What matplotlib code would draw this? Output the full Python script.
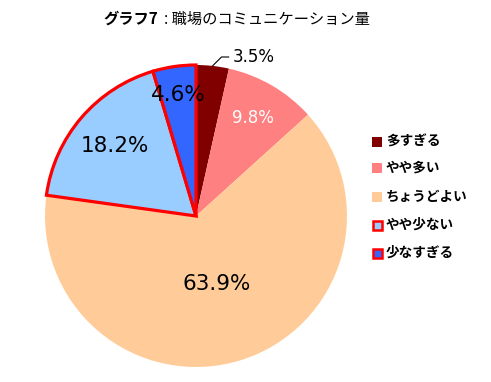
import matplotlib
matplotlib.use("Agg")
import matplotlib.pyplot as plt
from matplotlib.patches import Rectangle
import numpy as np

# data
categories = ["多すぎる", "やや多い", "ちょうどよい", "やや少ない", "少なすぎる"]
values = [3.5, 9.8, 63.9, 18.2, 4.6]
colors = ["#800000", "#FF8080", "#FFCC99", "#99CCFF", "#3366FF"]
edge_red = [False, False, False, True, True]

jp = ["Noto Sans CJK JP", "DejaVu Sans"]
plt.rcParams["font.family"] = ["DejaVu Sans"]

W, H = 491, 382
fig = plt.figure(figsize=(W / 100, H / 100), dpi=100)
fig.patch.set_facecolor("white")
ax = fig.add_axes([0, 0, 1, 1])

wedges, _ = ax.pie(values, colors=colors, startangle=90, counterclock=False,
                   radius=1.0, wedgeprops=dict(linewidth=0))
for w, red in zip(wedges, edge_red):
    if red:
        w.set_edgecolor("#FF0000")
        w.set_linewidth(2.3)
        w.set_joinstyle("miter")

# pie center at (196, 216) px, radius 151 px
cx, cy, R = 196, 216, 151
ax.set_aspect("auto")
ax.set_xlim(-cx / R, (W - cx) / R)
ax.set_ylim(-(H - cy) / R, cy / R)
ax.axis("off")

# labels
lab_r = [None, 0.75, 0.47, 0.71, 0.81]
lab_color = ["black", "white", "black", "black", "black"]
lab_size = [12, 12, 15.5, 15.5, 15.5]
ang = 90.0
for i, v in enumerate(values):
    mid = ang - v * 3.6 / 2
    ang -= v * 3.6
    t = np.deg2rad(mid)
    txt = f"{v:.1f}%"
    if lab_r[i] is None:
        ax.annotate(txt, xy=(np.cos(t), np.sin(t)), xytext=(0.245, 1.053),
                    ha="left", va="center", fontsize=lab_size[i], color=lab_color[i],
                    arrowprops=dict(arrowstyle="-", color="black", lw=0.8,
                                    relpos=(0, 0.5), shrinkA=1, shrinkB=0,
                                    connectionstyle="angle,angleA=180,angleB=45,rad=0"))
    else:
        ax.text(lab_r[i] * np.cos(t), lab_r[i] * np.sin(t), txt, ha="center", va="center",
                fontsize=lab_size[i], color=lab_color[i])

# title
fig.text(103 / W, 1 - 19 / H, "グラフ7", family=jp, fontsize=11, fontweight="bold",
         ha="left", va="center")
fig.text(164 / W, 1 - 19 / H, ": 職場のコミュニケーション量", family=jp, fontsize=11,
         ha="left", va="center")

# legend
rows = [142, 168, 197, 225, 253]
for lab, c, red, yy in zip(categories, colors, edge_red, rows):
    if red:
        r = Rectangle((373 / W, 1 - (yy + 4.5) / H), 9 / W, 9 / H, transform=fig.transFigure,
                      facecolor=c, edgecolor="#FF0000", linewidth=1.8)
    else:
        r = Rectangle((372 / W, 1 - (yy + 5) / H), 10 / W, 10 / H, transform=fig.transFigure,
                      facecolor=c, edgecolor="none")
    fig.patches.append(r)
    fig.text(386 / W, 1 - yy / H, lab, family=jp, fontsize=9.8, fontweight="bold",
             ha="left", va="center")

fig.savefig("out.png", dpi=100)
